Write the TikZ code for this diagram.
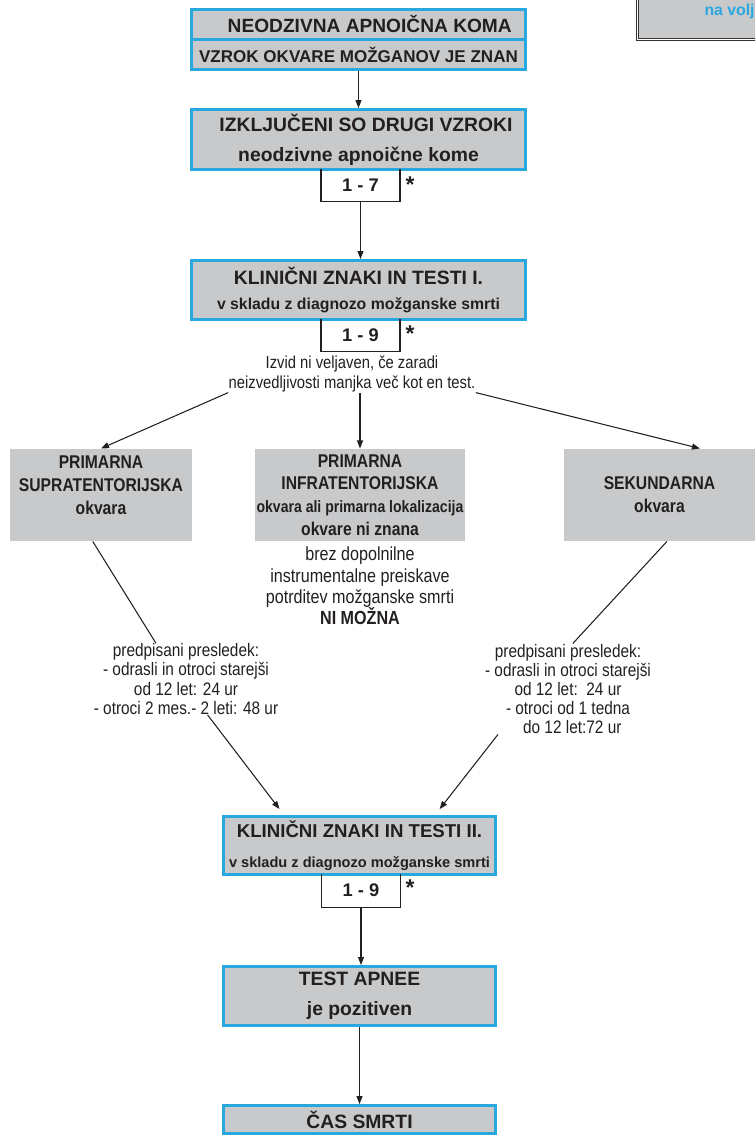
\documentclass[tikz,border=0pt]{standalone}
\usepackage{fontspec}
\setmainfont{Liberation Sans}
\newfontfamily\narrowfont[FakeStretch=0.85]{Liberation Sans}
\usepackage{xcolor}
\usetikzlibrary{arrows.meta}
\definecolor{kblue}{RGB}{41,168,224}
\definecolor{kgray}{RGB}{200,201,203}
\definecolor{kink}{RGB}{35,31,32}

\begin{document}
\begin{tikzpicture}[x=0.02cm, y=-0.02cm, line width=0.6pt, kink,
		bluebox/.style={draw=kblue, line width=1.7pt, fill=kgray, inner sep=0pt, align=center, minimum width=6.68cm},
		graybox/.style={fill=kgray, inner sep=0pt, align=center, minimum height=1.84cm, font=\narrowfont\bfseries\fontsize{10.5}{13}\selectfont},
		numbox/.style={inner sep=0pt, minimum width=1.56cm, minimum height=0.62cm, font=\bfseries\fontsize{10.4}{12}\selectfont},
		star/.style={inner sep=0pt, font=\bfseries\fontsize{13}{13}\selectfont},
		note/.style={align=center, inner sep=0pt, font=\narrowfont\fontsize{10.3}{10.9}\selectfont},
		arr/.style={-{Triangle[length=1.6mm, width=1.2mm]}}]
	\useasboundingbox (0,0) rectangle (755,1136);
	\clip (0,0) rectangle (755,1136);
	
	% box at the top right, cut by the page
	\node[draw=black!80, double, double distance=0.7pt, line width=0.5pt, fill=kgray, minimum width=3cm, minimum height=1.3cm, inner sep=0pt, anchor=south west] (legend) at (637,40) {};
	\node[anchor=base west, inner sep=0pt, text=kblue, font=\bfseries\fontsize{9}{11}\selectfont] (legtext) at (704,15) {na volj};
	
	% main column
	\node[bluebox, minimum height=0.6cm, font=\bfseries\fontsize{10.9}{12}\selectfont] (koma) at (358.5,24.5) {\hspace*{0.45cm}NEODZIVNA APNOIČNA KOMA};
	\node[bluebox, minimum height=0.6cm, font=\bfseries\fontsize{9.7}{12}\selectfont] (vzrok) at (358.5,54.5) {VZROK OKVARE MOŽGANOV JE ZNAN};
	
	\node[bluebox, minimum height=1.2cm, font=\bfseries\fontsize{11}{17}\selectfont] (izkl) at (358.5,139.5) {\hspace*{0.3cm}IZKLJUČENI SO DRUGI VZROKI\\neodzivne apnoične kome};
	\node[numbox] (n17) at (360.5,185) {1 - 7};
	\node[star] (s17) at (410,185) {*};
	
	\node[bluebox, minimum height=1.18cm, font=\bfseries\fontsize{14.7}{14.7}\selectfont] (klin1) at (358.5,290) {{\fontsize{11}{12}\selectfont KLINIČNI ZNAKI IN TESTI I.}\\{\fontsize{9}{10}\selectfont v skladu z diagnozo možganske smrti}};
	\node[numbox] (n19a) at (360.5,335) {1 - 9};
	\node[star] (s19a) at (410,334) {*};
	
	\node[note, font=\narrowfont\fontsize{9.9}{11.3}\selectfont] (izvid) at (352,374) {Izvid ni veljaven, če zaradi\\neizvedljivosti manjka več kot en test.};
	
	% three kinds of damage
	\node[graybox, minimum width=3.64cm] (sup) at (101,495) {};
	\node[graybox, fill=none] (suptext) at (101,485) {PRIMARNA\\SUPRATENTORIJSKA\\okvara};
	\node[graybox, minimum width=4.2cm] (inf) at (360,495) {PRIMARNA\\INFRATENTORIJSKA\\{\fontsize{9.4}{12}\selectfont okvara ali primarna lokalizacija}\\okvare ni znana};
	\node[graybox, minimum width=3.82cm] (sek) at (659.5,495) {SEKUNDARNA\\okvara};
	
	\node[note, font=\narrowfont\fontsize{10.8}{12.1}\selectfont] (infnote) at (360,586) {brez dopolnilne\\instrumentalne preiskave\\potrditev možganske smrti\\{\bfseries NI MOŽNA}};
	
	\node[note] (intL) at (186,679) {predpisani presledek:\\- odrasli in otroci starejši\\od 12 let: 24 ur\\- otroci 2 mes.- 2 leti: 48 ur};
	\node[note] (intR) at (568,689) {predpisani presledek:\\- odrasli in otroci starejši\\od 12 let:\ \ 24 ur\\- otroci od 1 tedna\\\ \ do 12 let:72 ur};
	
	\node[bluebox, minimum width=5.44cm, minimum height=1.16cm, font=\bfseries\fontsize{17}{17}\selectfont] (klin2) at (359.5,845.5) {{\fontsize{10.6}{12}\selectfont KLINIČNI ZNAKI IN TESTI II.}\\{\fontsize{8.3}{10}\selectfont v skladu z diagnozo možganske smrti}};
	\node[numbox, minimum height=0.64cm] (n19b) at (361,890.5) {1 - 9};
	\node[star] (s19b) at (410,888) {*};
	
	\node[bluebox, minimum width=5.44cm, minimum height=1.18cm, font=\bfseries\fontsize{11}{17}\selectfont] (apnea) at (359.5,996) {TEST APNEE\\je pozitiven};
	\node[bluebox, minimum width=5.44cm, minimum height=0.56cm, font=\bfseries\fontsize{11}{12}\selectfont] (cas) at (359.5,1119.5) {ČAS SMRTI};
	
	% open boxes under the blue ones
	\draw (n17.north west) |- (n17.south east) -- (n17.north east);
	\draw (n19a.north west) |- (n19a.south east) -- (n19a.north east);
	\draw (n19b.north west) |- (n19b.south east) -- (n19b.north east);
	
	% connectors
	\draw[arr] (vzrok.south) -- (izkl.north);
	\draw[arr] (n17.south) -- (n17.south |- klin1.north);
	\draw[arr] (izvid.south west) -- (sup.north);
	\draw[arr] (izvid.south -| inf.north) -- (inf.north);
	\draw[arr] (izvid.south east) -- (sek.49);
	
	\draw (sup.-100) -- (intL.130);
	\draw[arr, shorten >=1.5mm] (intL.-59) -- (klin2.158);
	\draw (sek.-81) -- (intR.84);
	\draw[arr, shorten >=1.5mm] (intR.213) -- (klin2.22);
	
	\draw[arr] (n19b.south) -- (n19b.south |- apnea.north);
	\draw[arr] (apnea.south) -- (cas.north);
\end{tikzpicture}
\end{document}
